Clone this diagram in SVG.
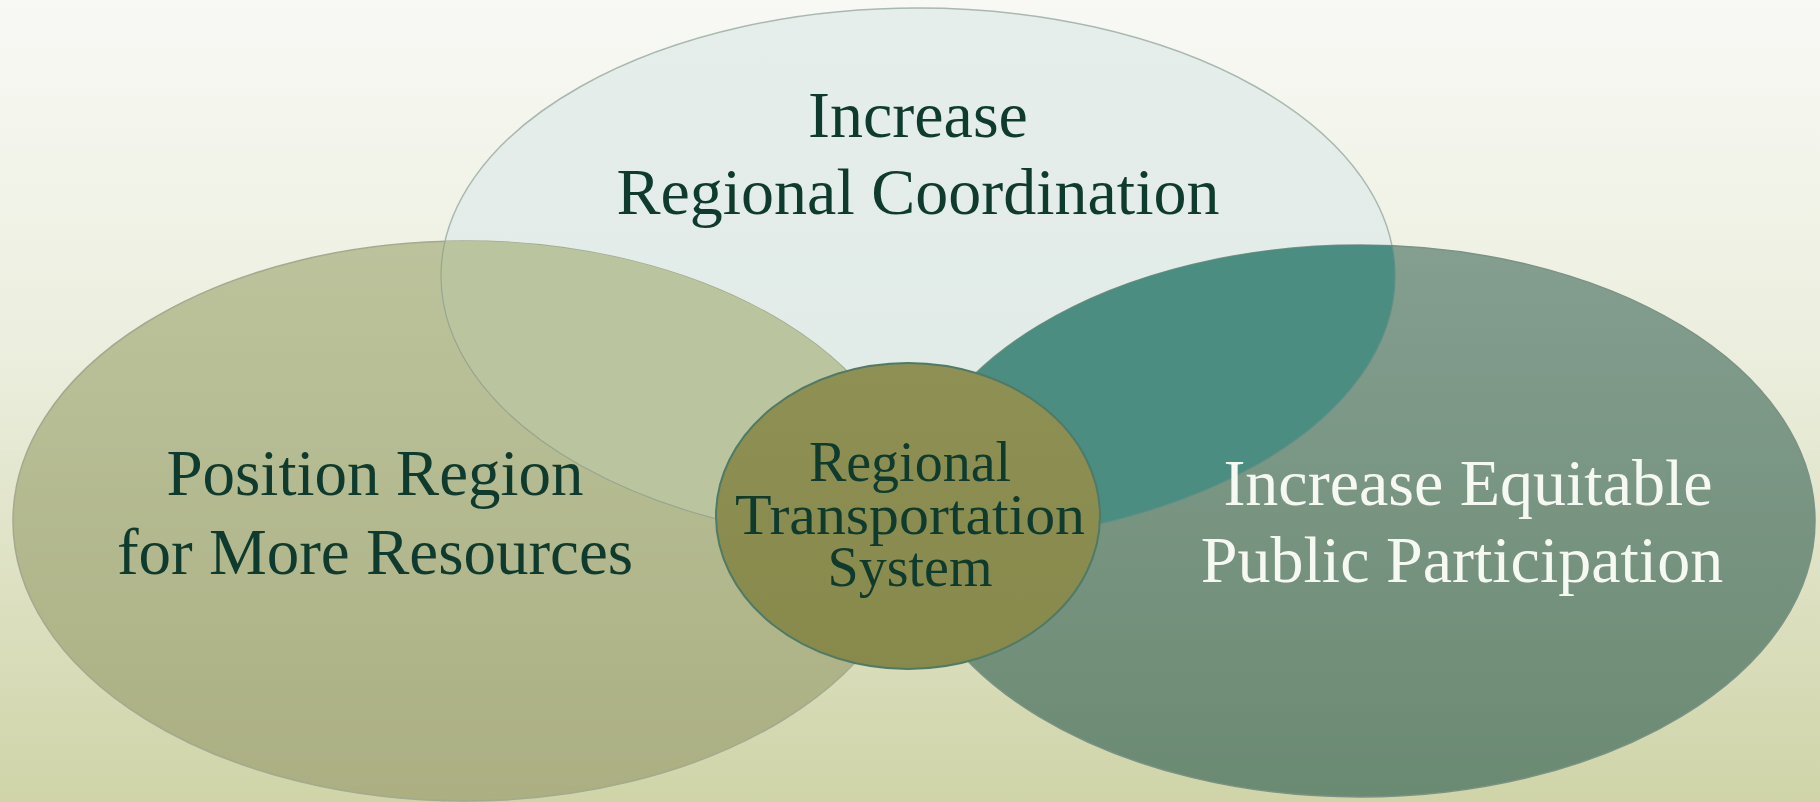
<svg xmlns="http://www.w3.org/2000/svg" width="1820" height="802" viewBox="0 0 1820 802">
  <defs>
    <linearGradient id="bg" x1="0" y1="0" x2="0" y2="1">
      <stop offset="0" stop-color="#f8f9f5"/>
      <stop offset="0.45" stop-color="#ebeedd"/>
      <stop offset="1" stop-color="#d0d4a8"/>
    </linearGradient>
    <linearGradient id="gLeft" x1="0" y1="0" x2="0" y2="1">
      <stop offset="0" stop-color="#bcc39c"/>
      <stop offset="1" stop-color="#abaf82"/>
    </linearGradient>
    <linearGradient id="gRight" x1="0" y1="0" x2="0" y2="1">
      <stop offset="0" stop-color="#849e90"/>
      <stop offset="1" stop-color="#6b8a72"/>
    </linearGradient>
    <linearGradient id="gTop" x1="0" y1="0" x2="0" y2="1">
      <stop offset="0" stop-color="#e6eeeb"/>
      <stop offset="1" stop-color="#dfeae6"/>
    </linearGradient>
    <linearGradient id="gCenter" x1="0" y1="0" x2="0" y2="1">
      <stop offset="0" stop-color="#8e9054"/>
      <stop offset="1" stop-color="#888a4c"/>
    </linearGradient>
    <clipPath id="clipLeft">
      <ellipse cx="465" cy="521" rx="452" ry="280"/>
    </clipPath>
    <clipPath id="clipRight">
      <ellipse cx="1360" cy="521" rx="455" ry="276"/>
    </clipPath>
    <style>
      .t { font-family: "Liberation Serif", "Times New Roman", serif; text-anchor: middle; }
      .dark { fill: #0e3b2d; }
      .light { fill: #f6f8f2; }
      .edge { stroke-width: 1.5; }
    </style>
  </defs>

  <rect x="0" y="0" width="1820" height="802" fill="url(#bg)"/>

  <g id="node-top-shape">
    <ellipse cx="918" cy="276" rx="477" ry="268" fill="url(#gTop)" stroke="#a9b8b0" class="edge"/>
  </g>

  <g id="node-left">
    <ellipse cx="465" cy="521" rx="452" ry="280" fill="url(#gLeft)" stroke="#a3aa8e" class="edge"/>
    <ellipse cx="918" cy="276" rx="477" ry="268" fill="#bac59f" clip-path="url(#clipLeft)"/>
    <ellipse cx="918" cy="276" rx="477" ry="268" fill="none" stroke="#98a690" stroke-width="1.2" clip-path="url(#clipLeft)"/>
    <text class="t dark" x="375" y="495" font-size="65">Position Region</text>
    <text class="t dark" x="375" y="574" font-size="65">for More Resources</text>
  </g>

  <g id="node-right">
    <ellipse cx="1360" cy="521" rx="455" ry="276" fill="url(#gRight)" stroke="#7a9284" class="edge"/>
    <ellipse cx="918" cy="276" rx="477" ry="268" fill="#4b8d81" clip-path="url(#clipRight)"/>
    <ellipse cx="918" cy="276" rx="477" ry="268" fill="none" stroke="#5f8f86" stroke-width="1.2" clip-path="url(#clipRight)"/>
    <text class="t light" x="1468" y="505" font-size="66">Increase Equitable</text>
    <text class="t light" x="1462" y="582" font-size="66">Public Participation</text>
  </g>

  <g id="node-top">
    <text class="t dark" x="918" y="137" font-size="66">Increase</text>
    <text class="t dark" x="918" y="214" font-size="66">Regional Coordination</text>
  </g>

  <g id="node-center">
    <ellipse cx="908" cy="516" rx="192" ry="153" fill="url(#gCenter)" stroke="#4f7a66" stroke-width="2"/>
    <text class="t dark" x="910" y="481" font-size="56">Regional</text>
    <text class="t dark" x="910" y="534" font-size="56" textLength="350" lengthAdjust="spacingAndGlyphs">Transportation</text>
    <text class="t dark" x="910" y="586" font-size="56">System</text>
  </g>

  <g id="connectors"/>
</svg>
